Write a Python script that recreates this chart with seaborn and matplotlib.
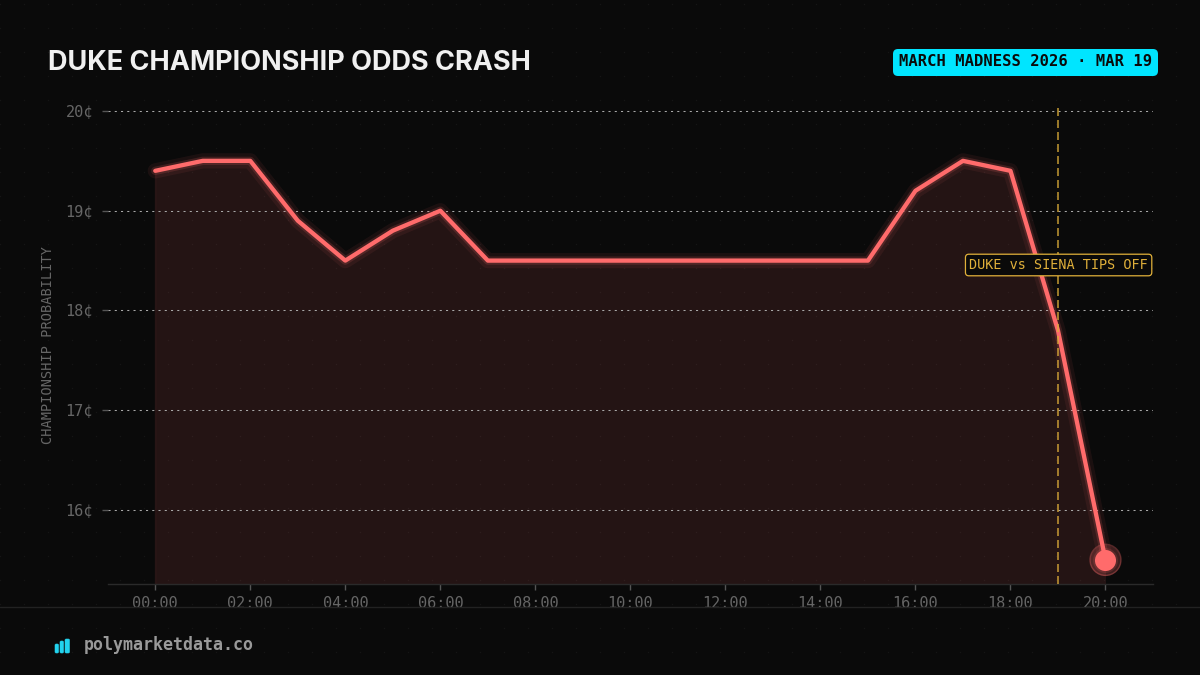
import numpy as np
import pandas as pd
import matplotlib
matplotlib.use("Agg")
import matplotlib.pyplot as plt
import seaborn as sns
from matplotlib.patches import FancyBboxPatch

hours = list(range(21))
price = [19.4, 19.5, 19.5, 18.9, 18.5, 18.8, 19.0, 18.5, 18.5, 18.5, 18.5,
         18.5, 18.5, 18.5, 18.5, 18.5, 19.2, 19.5, 19.4, 17.8, 15.5]
y_ticks = [16, 17, 18, 19, 20]
x_ticks = list(range(0, 21, 2))
event_hour = 19

BG = "#0a0a0a"
RED = "#ff6b6b"
GOLD = "#e0b03a"
CYAN = "#00e5ff"
MONO = "DejaVu Sans Mono"

sns.set_theme(style="dark")
plt.rcParams["font.family"] = ["Inter", "DejaVu Sans"]

W, H = 1200, 675
fig = plt.figure(figsize=(12, 6.75), dpi=100, facecolor=BG)

# faint dot pattern behind everything
bg = fig.add_axes([0, 0, 1, 1], zorder=0)
bg.set_xlim(0, W)
bg.set_ylim(H, 0)
bg.axis("off")
gx, gy = np.meshgrid(np.arange(0, W, 24), np.arange(4, H, 24))
bg.scatter(gx.ravel(), gy.ravel(), s=1, color="#151515", linewidths=0)

ax = fig.add_axes([108 / W, 1 - 584 / H, (1153 - 108) / W, (584 - 100) / H], zorder=1)
ax.patch.set_alpha(0)

df = pd.DataFrame({"hour": hours, "price": price})
ax.set_xlim(-0.995, 21.0)
ax.set_ylim(15.258, 20.11)

ax.fill_between(df["hour"], df["price"], 15.258, color=RED, alpha=0.11, linewidth=0, zorder=1)
ax.plot([0, 0], [15.258, price[0]], color=RED, alpha=0.1, lw=1, zorder=1)

for y in y_ticks:
    ax.axhline(y, color="#a8a8a8", lw=0.75, dashes=(2, 4), zorder=2)

# glow underneath the main line
sns.lineplot(data=df, x="hour", y="price", ax=ax, color=RED, lw=11, alpha=0.07, zorder=3)
sns.lineplot(data=df, x="hour", y="price", ax=ax, color=RED, lw=6, alpha=0.16, zorder=3)
sns.lineplot(data=df, x="hour", y="price", ax=ax, color=RED, lw=3.1, zorder=4)

ax.vlines(event_hour, 15.258, 20.04, color=GOLD, lw=1.2, linestyles=(0, (4.8, 2.4)), alpha=0.8, zorder=5)

ax.scatter(hours[-1], price[-1], s=500, color=RED, alpha=0.22, linewidths=0, zorder=5)
ax.scatter(hours[-1], price[-1], s=500, facecolors="none", edgecolors=RED, alpha=0.3, linewidths=1, zorder=5)
ax.scatter(hours[-1], price[-1], s=320, color=RED, alpha=0.15, linewidths=0, zorder=5)
ax.scatter(hours[-1], price[-1], s=230, color=RED, zorder=6, linewidths=0)

ax.set_xticks(x_ticks)
ax.set_xticklabels([f"{h:02d}:00" for h in x_ticks], family=MONO, fontsize=11, color="#666666")
ax.set_yticks(y_ticks)
ax.set_yticklabels([f"{y}¢" for y in y_ticks], family=MONO, fontsize=11, color="#666666")
ax.tick_params(axis="x", length=4.3, width=1, color="#555555", pad=4.5, bottom=True)
ax.tick_params(axis="y", length=4.3, width=1, color="#555555", pad=6.5, left=True)
ax.set_xlabel("")
ax.set_ylabel("CHAMPIONSHIP PROBABILITY", family=MONO, fontsize=9.8, color="#666666")
ax.yaxis.set_label_coords((55 - 108) / (1153 - 108), 0.494)
ax.grid(False)
for side in ["top", "right", "left"]:
    ax.spines[side].set_visible(False)
ax.spines["bottom"].set_color("#2a2a2a")
ax.spines["bottom"].set_linewidth(1)

# event label
ax.text(
    1148 / W, 1 - 265 / H, "DUKE vs SIENA TIPS OFF", transform=fig.transFigure, ha="right", va="center",
    family=MONO, fontsize=9.75, color=GOLD, zorder=8,
    bbox=dict(boxstyle="round,pad=0.28,rounding_size=0.25", facecolor=BG, edgecolor=GOLD, linewidth=0.9),
)

# overlay in pixel coords for the header and footer
top = fig.add_axes([0, 0, 1, 1], zorder=2)
top.set_xlim(0, W)
top.set_ylim(H, 0)
top.axis("off")

top.text(48, 62.5, "DUKE CHAMPIONSHIP ODDS CRASH", fontsize=19.5, fontweight="bold",
         color="#f0f0f0", va="center", ha="left")
top.add_patch(FancyBboxPatch((893, 49), 265, 27, boxstyle="round,pad=0,rounding_size=5",
                             facecolor=CYAN, edgecolor="none"))
top.text(1025.5, 62, "MARCH MADNESS 2026 · MAR 19", family=MONO, fontsize=11.2, fontweight="bold",
         color=BG, ha="center", va="center")

top.plot([0, W], [607, 607], color="#222222", lw=1)
for x, w, bar_top in zip([55, 60, 65], [3.5, 3.5, 4.5], [644, 641, 639]):
    top.add_patch(FancyBboxPatch((x, bar_top), w, 653 - bar_top,
                                 boxstyle="round,pad=0,rounding_size=1.2",
                                 facecolor="#22d3ee", edgecolor="#22d3ee", linewidth=0.4))
top.text(84, 645, "polymarketdata.co", family=MONO, fontsize=12, fontweight="bold",
         color="#999999", ha="left", va="center")

fig.savefig("out.png", dpi=100, facecolor=BG)
